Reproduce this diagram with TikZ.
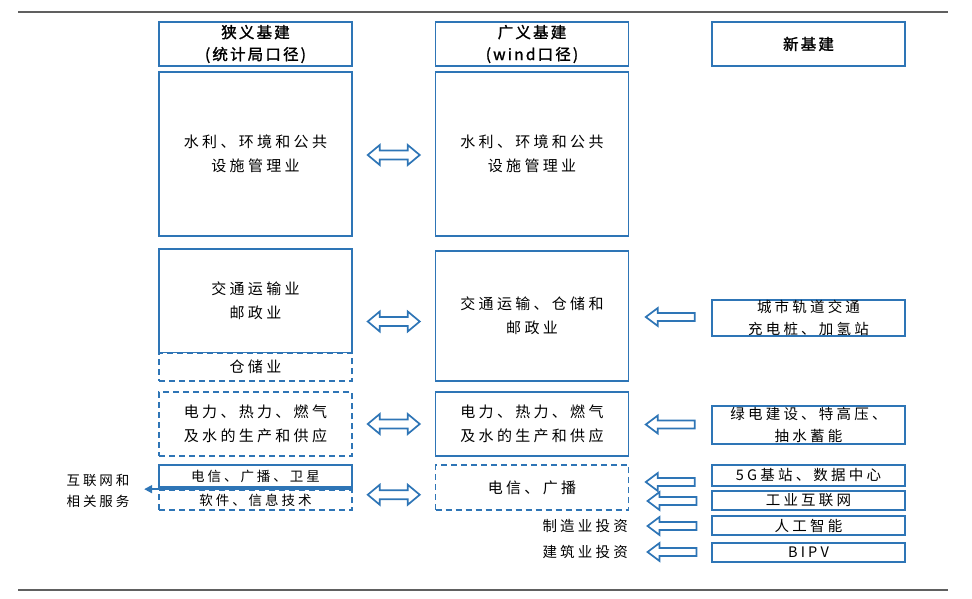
\documentclass[tikz,border=0pt]{standalone}
\usepackage{fontspec}
\newfontfamily\cjk[LetterSpace=22]{Noto Sans CJK SC}
\newfontfamily\cjkb[LetterSpace=14,FakeBold=1.5]{Noto Sans CJK SC}
\usetikzlibrary{calc,arrows.meta}
\definecolor{bl}{HTML}{2E75B6}
\definecolor{rule}{HTML}{606060}
\begin{document}
\begin{tikzpicture}[x=1pt,y=-1pt,
  box/.style={draw=bl, line width=1.7pt, fill=white, minimum width=193pt, inner sep=0pt, align=center,
    font=\cjk\fontsize{15pt}{24pt}\selectfont},
  dbox/.style={box, dash pattern=on 6pt off 4pt},
  hbox/.style={box, font=\cjkb\fontsize{15.5pt}{22pt}\selectfont},
  rbox/.style={box, font=\cjk\fontsize{14.5pt}{22pt}\selectfont},
  small/.style={font=\cjk\fontsize{13.5pt}{21pt}\selectfont},
  txt/.style={inner sep=0pt, align=center, font=\cjk\fontsize{14.5pt}{24pt}\selectfont},
  dblarr/.pic={\draw[bl, line width=1.7pt, line join=miter, fill=white]
     (-26,0) -- (-14,10) -- (-14,4.5) -- (14,4.5) -- (14,10) -- (26,0) -- (14,-10) -- (14,-4.5) -- (-14,-4.5) -- (-14,-10) -- cycle;},
  leftarr/.pic={\draw[bl, line width=1.7pt, line join=miter, fill=white]
     (-24.5,0) -- (-12.5,9) -- (-12.5,4) -- (24.5,4) -- (24.5,-4) -- (-12.5,-4) -- (-12.5,-9) -- cycle;}
]
\useasboundingbox (0,0) rectangle (972,599);
\draw[rule, line width=1.4pt] (18,12) -- (948,12);
\draw[rule, line width=1.4pt] (18,590) -- (948,590);

% headers
\node[hbox, minimum height=44pt] (h1) at (255.5,44) {狭义基建\\(统计局口径)};
\node[hbox, minimum height=44pt] (h2) at (532,44) {广义基建\\(wind口径)};
\node[hbox, minimum height=44pt] (h3) at (808.5,44) {新基建};

% column 1
\node[box, minimum height=164pt] (a1) at (255.5,154) {水利、环境和公共\\设施管理业};
\node[box, minimum height=104pt] (a2) at (255.5,301) {交通运输业\\邮政业};
\node[dbox, minimum height=28pt] (a3) at (255.5,367) {仓储业};
\node[dbox, minimum height=64pt] (a4) at (255.5,424) {电力、热力、燃气\\及水的生产和供应};
\node[box, small, minimum height=22pt] (a5) at (255.5,476) {电信、广播、卫星};
\node[dbox, small, minimum height=20pt] (a6) at (255.5,500) {软件、信息技术};

% column 2
\node[box, minimum height=164pt] (b1) at (532,154) {水利、环境和公共\\设施管理业};
\node[box, minimum height=130pt] (b2) at (532,316) {交通运输、仓储和\\邮政业};
\node[box, minimum height=64pt] (b3) at (532,424) {电力、热力、燃气\\及水的生产和供应};
\node[dbox, minimum height=45pt] (b4) at (532,487.5) {电信、广播};
\node[txt, anchor=east] (t1) at (628,526) {制造业投资};
\node[txt, anchor=east] (t2) at (628,552) {建筑业投资};

% column 3
\node[rbox, minimum height=36pt] (c1) at (808.5,318) {城市轨道交通\\充电桩、加氢站};
\node[rbox, minimum height=38pt] (c2) at (808.5,425) {绿电建设、特高压、\\抽水蓄能};
\node[rbox, minimum height=21pt] (c3) at (808.5,475.5) {5G基站、数据中心};
\node[rbox, minimum height=19pt] (c4) at (808.5,500.5) {工业互联网};
\node[rbox, minimum height=19pt] (c5) at (808.5,525.5) {人工智能};
\node[rbox, minimum height=19pt] (c6) at (808.5,552.5) {BIPV};

% internet branch
\node[txt, small] (inet) at (98,490.5) {互联网和\\相关服务};
\coordinate (tip) at ($(a6.north west)+(-14,0)$);
\draw[bl, line width=1.7pt, -{Triangle[length=8pt,width=8pt]}] (a6.north east) -- (tip);

% double arrows
\pic at ($(a1.east)!0.5!(b1.west)+(0,1)$) {dblarr};
\pic at ($(a2.east)!0.5!(b2.west)+(0,13)$) {dblarr};
\pic at ($(a4.east)!0.5!(b3.west)$) {dblarr};
\pic at ($(a5.east)!0.5!(b4.west)+(0,13)$) {dblarr};

% left arrows
\pic at ($(b2.east)!0.5!(c1.west)$) {leftarr};
\pic at ($(b3.east)!0.5!(c2.west)$) {leftarr};
\pic at ($(b4.east)!0.5!(c3.west)+(0,0.5)$) {leftarr};
\pic at (672,501) {leftarr};
\pic at (672,526) {leftarr};
\pic at (672,552) {leftarr};
\end{tikzpicture}
\end{document}
